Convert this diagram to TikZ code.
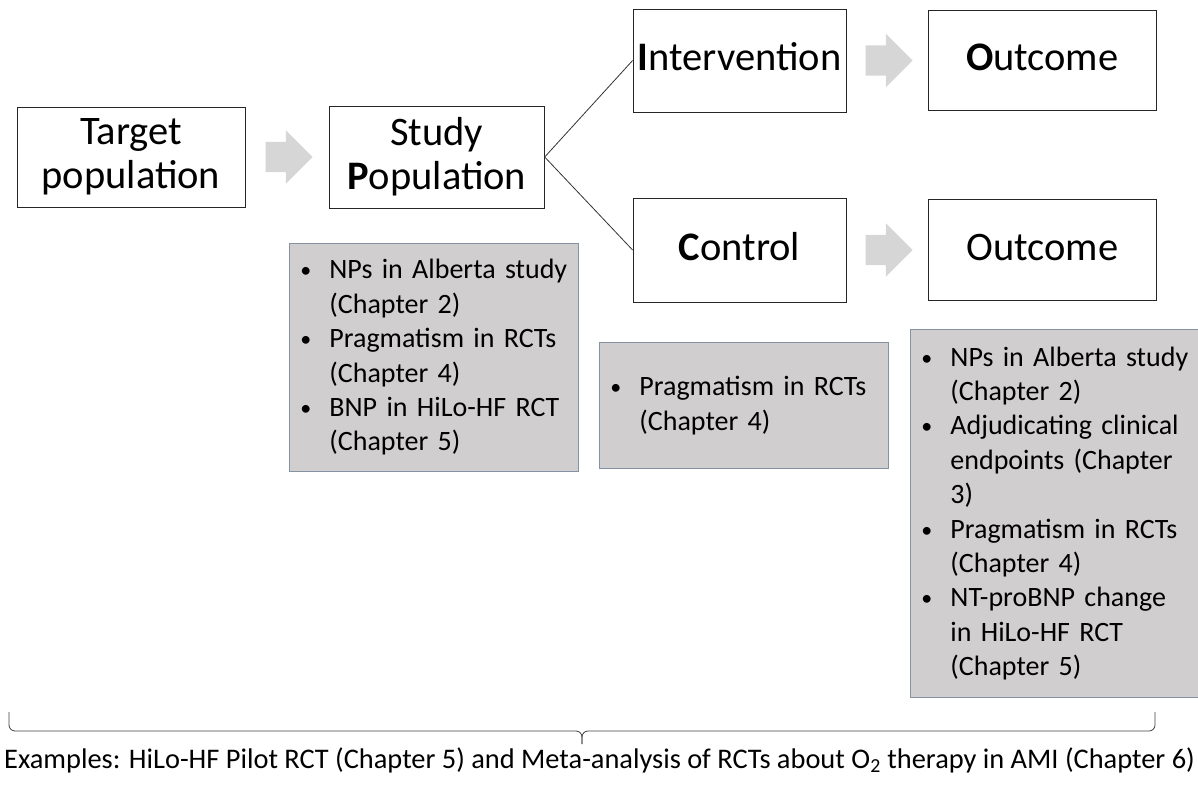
\documentclass[tikz,border=0pt]{standalone}
\usepackage{fontspec}
\setmainfont{Carlito}
\usetikzlibrary{positioning,shapes.arrows}
\definecolor{boxgray}{RGB}{208,206,206}
\definecolor{boxrim}{RGB}{132,146,164}
\definecolor{arrgray}{RGB}{214,214,214}
\newcommand{\bigtxt}{\fontsize{40.5}{44}\selectfont}
\newcommand{\smltxt}{\fontsize{28}{34.4}\selectfont}
\newcommand{\bl}{\makebox[31pt][l]{\hspace{2pt}{\fontsize{22}{22}\selectfont\raisebox{1pt}{\textbullet}}}}
\newcommand{\ind}{\hspace*{31pt}}
\tikzstyle{wb}=[rectangle,draw=black!85,line width=0.8pt,fill=white,inner sep=0pt,align=center,font=\bigtxt]
\tikzstyle{gb}=[rectangle,draw=boxrim,line width=0.8pt,fill=boxgray,inner xsep=9pt,inner ysep=0pt,align=left,font=\smltxt,anchor=north west]
\tikzstyle{ga}=[single arrow,fill=arrgray,draw=none,minimum height=47pt,single arrow head extend=11.5pt,inner xsep=0pt,inner ysep=15pt]
\tikzstyle{oneline}=[text height=30.4pt,text depth=10.1pt]
\tikzstyle{conn}=[draw=black!80,line width=0.8pt]
\tikzstyle{brc}=[draw=black!75,line width=0.8pt,rounded corners=6pt]

\begin{document}
\begin{tikzpicture}[x=1pt,y=-1pt]
    \useasboundingbox (0,0) rectangle (1198,786);
    \node (target) [wb,minimum width=228pt,minimum height=100pt] at (131,157) {Target\\population};
    \node (a1) [ga,right=20pt of target] {};
    \node (study) [wb,minimum width=215pt,minimum height=102pt,right=16pt of a1] {Study\\\textbf{P}opulation};

    \node (interv) [wb,oneline,minimum width=213pt,minimum height=103pt] at (739.5,60.5) {\textbf{I}ntervention};
    \node (a2) [ga,right=19pt of interv] {};
    \node (outT) [wb,oneline,minimum width=228pt,minimum height=100pt,right=15pt of a2] {\textbf{O}utcome};

    \node (ctrl) [wb,oneline,minimum width=213pt,minimum height=104pt] at (739.5,250) {\textbf{C}ontrol};
    \node (a3) [ga,right=19pt of ctrl] {};
    \node (outB) [wb,oneline,minimum width=228pt,minimum height=101pt,right=15pt of a3] {Outcome};

    \draw[conn] (study.east) -- (interv.west);
    \draw[conn] (study.east) -- (ctrl.west);

    % chapters per element
    \node (g1) [gb,text width=271pt,minimum height=228pt] at (289,243) {\bl NPs in Alberta study\\\ind(Chapter 2)\\\bl Pragmatism in RCTs\\\ind(Chapter 4)\\\bl BNP in HiLo-HF RCT\\\ind(Chapter 5)};
    \node (g2) [gb,text width=271pt,minimum height=126pt] at (599,342) {\bl Pragmatism in RCTs\\\ind(Chapter 4)};
    \node (g3) [gb,text width=270pt,minimum height=368pt] at (910,329) {\bl NPs in Alberta study\\\ind(Chapter 2)\\\bl Adjudicating clinical\\\ind endpoints (Chapter\\\ind 3)\\\bl Pragmatism in RCTs\\\ind(Chapter 4)\\\bl NT-proBNP change\\\ind in HiLo-HF RCT\\\ind(Chapter 5)};

    % brace over the whole row
    \coordinate (brL) at (9,712);
    \coordinate (brR) at (1155,712);
    \coordinate (brM) at (582,731);
    \coordinate (brT) at (582,744);
    \draw[brc] (brL) |- (brM) -- (brT);
    \draw[brc] (brR) |- (brM) -- (brT);
    \node (ex) [font=\fontsize{28.4}{34}\selectfont,text height=21.3pt,text depth=7.1pt,inner sep=0pt] at (599.5,761) {Examples: HiLo-HF Pilot RCT (Chapter 5) and Meta-analysis of RCTs about O\textsubscript{2} therapy in AMI (Chapter 6)};
\end{tikzpicture}
\end{document}
